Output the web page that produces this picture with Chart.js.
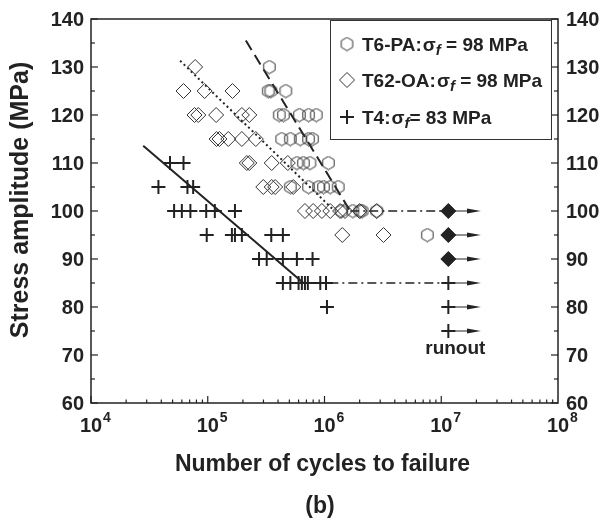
<!DOCTYPE html>
<html>
<head>
<meta charset="utf-8">
<script src="https://cdn.jsdelivr.net/npm/chart.js@4.4.1/dist/chart.umd.min.js"></script>
<style>
  html, body { margin: 0; padding: 0; background: #fff; }
</style>
</head>
<body>
<canvas id="snChart" width="614" height="520"></canvas>
<script>
// S-N data (cycles to failure, stress amplitude in MPa)

// T6-PA (hexagons)
const t6Cycles = [3.37e5, 3.3e5, 3.47e5, 4.66e5, 4.1e5, 4.45e5, 6.1e5, 7.3e5, 8.5e5,
    4.3e5, 5.1e5, 6.2e5, 7.3e5, 7.9e5, 5.8e5, 6.6e5, 7.5e5, 1.08e6,
    5.1e5, 7.3e5, 8.9e5, 9.8e5, 1.12e6, 1.31e6, 1.4e6, 1.75e6, 2.02e6, 2.1e6, 2.8e6, 7.6e6];
const t6Stress = [130, 125, 125, 125, 120, 120, 120, 120, 120,
    115, 115, 115, 115, 115, 110, 110, 110, 110,
    105, 105, 105, 105, 105, 105, 100, 100, 100, 100, 100, 95];

// T62-OA (diamonds)
const t62Cycles = [7.8e4, 6.2e4, 9.4e4, 1.63e5, 7.7e4, 8.3e4, 1.18e5, 1.96e5, 2.27e5,
    1.19e5, 1.26e5, 1.5e5, 1.96e5, 2.58e5, 2.16e5, 2.27e5, 3.53e5, 4.85e5,
    2.99e5, 3.53e5, 3.78e5, 5.4e5, 6.8e5, 8.0e5, 9.5e5, 1.12e6, 1.36e6, 1.5e6, 2.0e6, 2.8e6,
    1.42e6, 3.2e6];
const t62Stress = [130, 125, 125, 125, 120, 120, 120, 120, 120,
    115, 115, 115, 115, 115, 110, 110, 110, 110,
    105, 105, 105, 105, 100, 100, 100, 100, 100, 100, 100, 100,
    95, 95];

// T4 (plus)
const t4Cycles = [4.75e4, 6.2e4, 3.78e4, 6.7e4, 7.5e4,
    5.15e4, 6.0e4, 7.1e4, 9.7e4, 1.15e5, 1.71e5,
    9.8e4, 1.61e5, 1.71e5, 1.96e5, 3.5e5, 4.4e5,
    2.75e5, 3.2e5, 4.4e5, 5.8e5, 7.9e5,
    4.4e5, 5.1e5, 6.0e5, 6.4e5, 6.8e5, 7.2e5, 9.2e5, 1.03e6, 1.05e6];
const t4Stress = [110, 110, 105, 105, 105,
    100, 100, 100, 100, 100, 100,
    95, 95, 95, 95, 95, 95,
    90, 90, 90, 90, 90,
    85, 85, 85, 85, 85, 85, 85, 85, 80];

// runouts
const runoutCycles = 1.15e7;
const arrowEndCycles = 1.9e7;
const runoutFilledStress = [100, 95, 90];
const runoutT4Stress = [85, 80, 75];

// fitted lines
const t6FitCycles = [2.12e5, 1.66e6];
const t6FitStress = [135.5, 100];
const t62FitCycles = [5.8e4, 1.22e6];
const t62FitStress = [131.3, 100];
const t4FitCycles = [2.8e4, 6.6e5];
const t4FitStress = [113.6, 85];
const runoutLineCycles = [[1.66e6, 1.0e7], [1.1e6, 1.0e7]];
const runoutLineStress = [100, 85];

// axis ticks
const yTicks = [60, 70, 80, 90, 100, 110, 120, 130, 140];
const xDecades = [4, 5, 6, 7, 8];

const FONT = '"Liberation Sans", Arial, Helvetica, sans-serif';
const INK = '#222';

function pts(xs, ys) {
    return xs.map((x, i) => ({ x: x, y: ys[i] }));
}

// hexagon marker
const hexImg = (() => {
    const c = document.createElement('canvas');
    c.width = 15; c.height = 15;
    const g = c.getContext('2d');
    g.strokeStyle = '#333';
    g.lineWidth = 1;
    g.beginPath();
    for (let i = 0; i < 6; i++) {
        const ang = Math.PI / 2 + i * Math.PI / 3;
        const px = 7.5 + 6.6 * Math.cos(ang);
        const py = 7.5 - 6.6 * Math.sin(ang);
        if (i === 0) g.moveTo(px, py); else g.lineTo(px, py);
    }
    g.closePath();
    g.stroke();
    return c;
})();

// arrow head
const arrowImg = (() => {
    const c = document.createElement('canvas');
    c.width = 14; c.height = 8;
    const g = c.getContext('2d');
    g.fillStyle = INK;
    g.beginPath();
    g.moveTo(0, 1.5);
    g.lineTo(14, 4);
    g.lineTo(0, 6.5);
    g.closePath();
    g.fill();
    return c;
})();

const datasets = [
    {
        label: 'T6-PA',
        data: pts(t6Cycles, t6Stress),
        pointStyle: hexImg,
        pointRadius: 6
    },
    {
        label: 'T62-OA',
        data: pts(t62Cycles, t62Stress),
        pointStyle: 'rectRot',
        pointRadius: 7.5,
        borderColor: '#333',
        borderWidth: 1,
        backgroundColor: 'rgba(0,0,0,0)'
    },
    {
        label: 'T4',
        data: pts(t4Cycles, t4Stress),
        pointStyle: 'cross',
        pointRadius: 7,
        borderColor: INK,
        borderWidth: 2
    },
    {
        label: 'runout filled',
        data: runoutFilledStress.map(s => ({ x: runoutCycles, y: s })),
        pointStyle: 'rectRot',
        pointRadius: 7.5,
        borderColor: INK,
        borderWidth: 1,
        backgroundColor: INK
    },
    {
        label: 'runout T4',
        data: runoutT4Stress.map(s => ({ x: runoutCycles, y: s })),
        pointStyle: 'cross',
        pointRadius: 7,
        borderColor: INK,
        borderWidth: 2
    },
    {
        label: 'T6 fit',
        data: pts(t6FitCycles, t6FitStress),
        showLine: true, pointRadius: 0,
        borderColor: INK, borderWidth: 2, borderDash: [11, 6]
    },
    {
        label: 'T62 fit',
        data: pts(t62FitCycles, t62FitStress),
        showLine: true, pointRadius: 0,
        borderColor: INK, borderWidth: 2, borderDash: [2, 3]
    },
    {
        label: 'T4 fit',
        data: pts(t4FitCycles, t4FitStress),
        showLine: true, pointRadius: 0,
        borderColor: INK, borderWidth: 2
    }
];

runoutLineStress.forEach((s, i) => {
    datasets.push({
        label: 'runout line ' + s,
        data: runoutLineCycles[i].map(x => ({ x: x, y: s })),
        showLine: true, pointRadius: 0,
        borderColor: INK, borderWidth: 1.5, borderDash: [9, 4, 2, 4]
    });
});

runoutFilledStress.concat(runoutT4Stress).forEach(s => {
    datasets.push({
        label: 'arrow ' + s,
        data: [{ x: runoutCycles, y: s }, { x: arrowEndCycles, y: s }],
        showLine: true,
        borderColor: INK, borderWidth: 1,
        pointStyle: arrowImg,
        pointRadius: [0, 5]
    });
});

// frame, ticks, labels, legend
const decorPlugin = {
    id: 'decor',
    afterDraw(chart) {
        const ctx = chart.ctx;
        const a = chart.chartArea;
        const x = chart.scales.x;
        const y = chart.scales.y;

        ctx.save();
        ctx.strokeStyle = INK;
        ctx.fillStyle = INK;
        ctx.lineWidth = 1.5;
        ctx.setLineDash([]);
        ctx.strokeRect(a.left, a.top, a.right - a.left, a.bottom - a.top);

        const seg = (x1, y1, x2, y2) => {
            ctx.beginPath();
            ctx.moveTo(x1, y1);
            ctx.lineTo(x2, y2);
            ctx.stroke();
        };

        // y ticks, both sides
        ctx.lineWidth = 1.2;
        for (let v = yTicks[0]; v <= yTicks[yTicks.length - 1]; v += 5) {
            const py = y.getPixelForValue(v);
            const len = v % 10 === 0 ? 7 : 4;
            seg(a.left, py, a.left + len, py);
            seg(a.right, py, a.right - len, py);
        }

        // x ticks (log)
        for (let d = xDecades[0]; d < xDecades[xDecades.length - 1]; d++) {
            for (let m = 1; m < 10; m++) {
                const px = x.getPixelForValue(m * Math.pow(10, d));
                seg(px, a.bottom, px, a.bottom - (m === 1 ? 7 : 3.5));
            }
        }

        // y tick labels
        ctx.font = 'bold 20px ' + FONT;
        ctx.textBaseline = 'middle';
        yTicks.forEach(v => {
            const py = y.getPixelForValue(v);
            ctx.textAlign = 'right';
            ctx.fillText(String(v), a.left - 7, py + 1);
            ctx.textAlign = 'left';
            ctx.fillText(String(v), a.right + 8, py + 1);
        });

        // x tick labels 10^n
        ctx.textBaseline = 'alphabetic';
        xDecades.forEach(d => {
            const px = x.getPixelForValue(Math.pow(10, d));
            ctx.font = 'bold 20px ' + FONT;
            ctx.textAlign = 'center';
            ctx.fillText('10', px, a.bottom + 29);
            const w = ctx.measureText('10').width;
            ctx.font = 'bold 14px ' + FONT;
            ctx.textAlign = 'left';
            ctx.fillText(String(d), px + w / 2 + 1, a.bottom + 19);
        });

        // axis titles
        ctx.font = 'bold 23px ' + FONT;
        ctx.textAlign = 'center';
        ctx.textBaseline = 'middle';
        ctx.fillText('Number of cycles to failure', (a.left + a.right) / 2 - 2, a.bottom + 62);
        ctx.fillText('(b)', 320, a.bottom + 104);
        ctx.save();
        ctx.font = 'bold 25px ' + FONT;
        ctx.translate(21, 200);
        ctx.rotate(-Math.PI / 2);
        ctx.fillText('Stress amplitude (MPa)', 0, 0);
        ctx.restore();

        // runout label
        ctx.font = 'bold 19px ' + FONT;
        ctx.fillText('runout', x.getPixelForValue(runoutCycles) + 7, y.getPixelForValue(runoutT4Stress[2]) + 18);

        // legend
        const lx = 330, ly = 20, lw = 221, lh = 119;
        ctx.lineWidth = 1;
        ctx.strokeStyle = '#333';
        ctx.strokeRect(lx + 0.5, ly + 0.5, lw, lh);
        const rows = [
            { sym: 'hex', name: 'T6-PA:', val: ' = 98 MPa', yy: 44 },
            { sym: 'dia', name: 'T62-OA:', val: ' = 98 MPa', yy: 80 },
            { sym: 'plus', name: 'T4:', val: '= 83 MPa', yy: 117 }
        ];
        rows.forEach(r => {
            const sx = 347;
            if (r.sym === 'hex') {
                ctx.drawImage(hexImg, sx - 7.5, r.yy - 7.5);
            } else if (r.sym === 'dia') {
                ctx.lineWidth = 1;
                ctx.beginPath();
                ctx.moveTo(sx - 7.5, r.yy);
                ctx.lineTo(sx, r.yy - 7.5);
                ctx.lineTo(sx + 7.5, r.yy);
                ctx.lineTo(sx, r.yy + 7.5);
                ctx.closePath();
                ctx.stroke();
            } else {
                ctx.lineWidth = 2;
                ctx.strokeStyle = INK;
                seg(sx - 7, r.yy, sx + 7, r.yy);
                seg(sx, r.yy - 7, sx, r.yy + 7);
            }
            let tx = 362;
            ctx.textAlign = 'left';
            ctx.textBaseline = 'alphabetic';
            ctx.font = 'bold 19px ' + FONT;
            ctx.fillText(r.name, tx, r.yy + 7);
            tx += ctx.measureText(r.name).width + 1;
            ctx.fillText('\u03c3', tx, r.yy + 7);
            tx += ctx.measureText('\u03c3').width;
            ctx.font = 'italic bold 15px ' + FONT;
            ctx.fillText('f', tx, r.yy + 11);
            tx += ctx.measureText('f').width;
            ctx.font = 'bold 19px ' + FONT;
            ctx.fillText(r.val, tx, r.yy + 7);
        });

        ctx.restore();
    }
};

new Chart(document.getElementById('snChart').getContext('2d'), {
    type: 'scatter',
    data: { datasets: datasets },
    options: {
        responsive: false,
        animation: false,
        layout: {
            padding: { left: 91, top: 19, right: 56, bottom: 117 }
        },
        plugins: {
            legend: { display: false },
            tooltip: { enabled: false }
        },
        scales: {
            x: {
                type: 'logarithmic',
                min: 1e4,
                max: 1e8,
                display: false
            },
            y: {
                type: 'linear',
                min: 60,
                max: 140,
                display: false
            }
        }
    },
    plugins: [decorPlugin]
});
</script>
</body>
</html>
